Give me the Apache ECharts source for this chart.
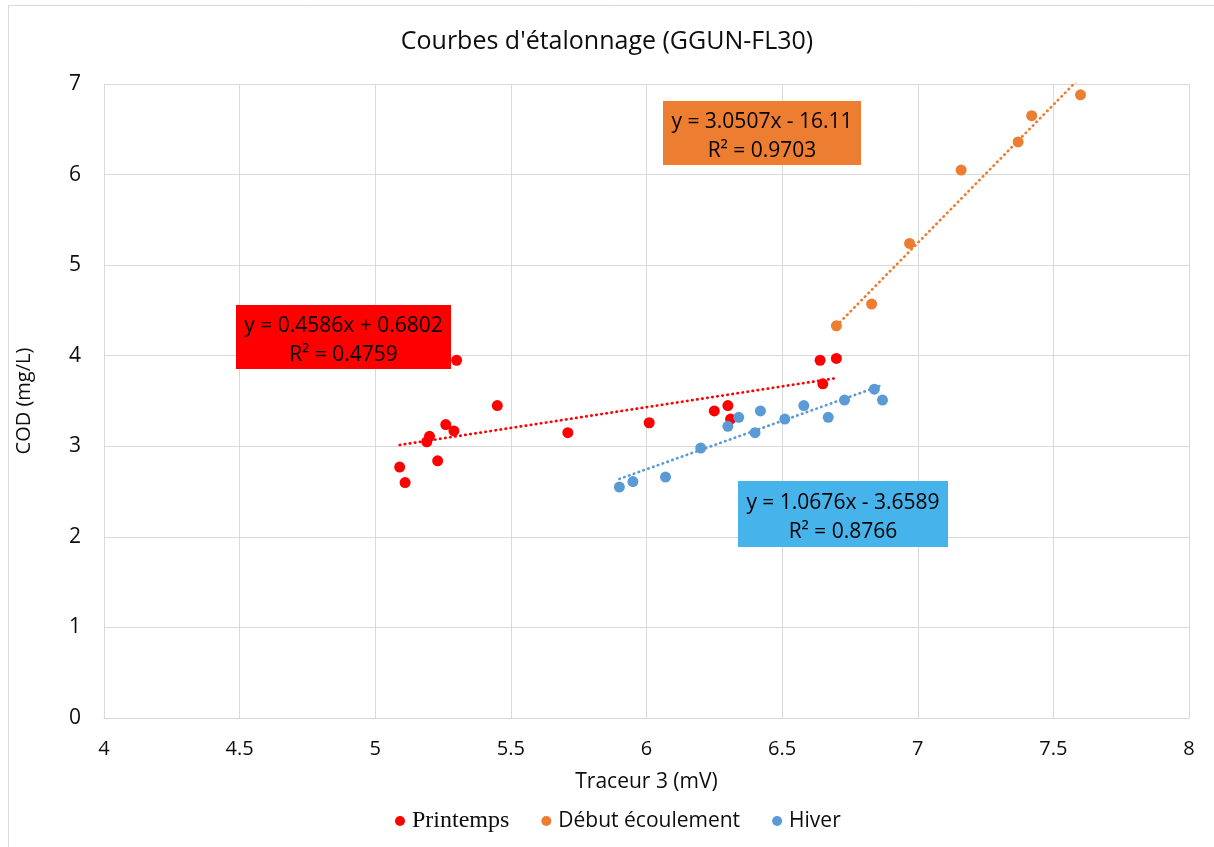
<!DOCTYPE html>
<html>
<head>
<meta charset="utf-8">
<script src="https://cdn.jsdelivr.net/npm/echarts@6/dist/echarts.min.js"></script>
<style>
  html, body { margin: 0; padding: 0; background: #fff; }
  #chart { width: 1214px; height: 847px; }
</style>
</head>
<body>
<div id="chart"></div>
<script>
// Calibration data: tracer 3 signal (mV) vs COD (mg/L)
const seriesNames = ['Printemps', 'Début écoulement', 'Hiver'];
const seriesColors = ['#FF0000', '#ED7D31', '#5B9BD5'];

const printempsX = [5.09, 5.11, 5.19, 5.20, 5.23, 5.26, 5.29, 5.30, 5.45, 5.71, 6.01, 6.25, 6.30, 6.31, 6.64, 6.70, 6.65];
const printempsY = [2.77, 2.60, 3.05, 3.11, 2.84, 3.24, 3.17, 3.95, 3.45, 3.15, 3.26, 3.39, 3.45, 3.30, 3.95, 3.97, 3.69];

const debutX = [6.70, 6.83, 6.97, 7.16, 7.37, 7.42, 7.60];
const debutY = [4.33, 4.57, 5.24, 6.05, 6.36, 6.65, 6.88];

const hiverX = [5.90, 5.95, 6.07, 6.20, 6.30, 6.34, 6.42, 6.40, 6.51, 6.58, 6.67, 6.73, 6.84, 6.87];
const hiverY = [2.55, 2.61, 2.66, 2.98, 3.22, 3.32, 3.39, 3.15, 3.30, 3.45, 3.32, 3.51, 3.63, 3.51];

// Linear trendlines (y = a·x + b) and their R²
const trendSlopes = [0.4586, 3.0507, 1.0676];
const trendIntercepts = [0.6802, -16.11, -3.6589];
const trendR2 = ['0.4759', '0.9703', '0.8766'];

const xAxisMin = 4, xAxisMax = 8, xAxisStep = 0.5;
const yAxisMin = 0, yAxisMax = 7, yAxisStep = 1;

const allX = [printempsX, debutX, hiverX];
const allY = [printempsY, debutY, hiverY];

const UI_FONT = '"Open Sans", "Noto Sans", sans-serif';
const TEXT = '#0d0d0d';

function pairs(xs, ys) { return xs.map((x, i) => [x, ys[i]]); }

function trendData(k) {
  const a = trendSlopes[k], b = trendIntercepts[k];
  const x0 = Math.min(...allX[k]), x1 = Math.max(...allX[k]);
  return [[x0, a * x0 + b], [x1, a * x1 + b]];
}

function equationText(k) {
  const a = trendSlopes[k], b = trendIntercepts[k];
  const sign = b < 0 ? ' - ' : ' + ';
  return 'y = ' + a + 'x' + sign + Math.abs(b) + '\nR² = ' + trendR2[k];
}

const scatterSeries = seriesNames.map((name, k) => ({
  name: name,
  type: 'scatter',
  data: pairs(allX[k], allY[k]),
  symbol: 'circle',
  symbolSize: 11,
  itemStyle: { color: seriesColors[k], opacity: 1 },
  z: 3
}));

const trendSeries = seriesNames.map((name, k) => ({
  name: 'Tendance ' + name,
  type: 'line',
  data: trendData(k),
  showSymbol: false,
  symbol: 'none',
  clip: true,
  silent: true,
  lineStyle: { color: seriesColors[k], width: 2.7, type: [0.5, 4.6], cap: 'round' },
  z: 4
}));

// Equation boxes
const boxes = [
  { x: 236, y: 305, w: 215, h: 64, fill: '#FF0000' },
  { x: 663, y: 101, w: 198, h: 64, fill: '#ED7D31' },
  { x: 738, y: 481, w: 210, h: 66, fill: '#46B4EA' }
];

const boxGraphics = [];
boxes.forEach((bx, k) => {
  boxGraphics.push({
    type: 'rect',
    z: 100,
    silent: true,
    shape: { x: bx.x, y: bx.y, width: bx.w, height: bx.h },
    style: { fill: bx.fill }
  });
  boxGraphics.push({
    type: 'text',
    z: 101,
    silent: true,
    x: bx.x + bx.w / 2,
    y: bx.y + bx.h / 2 + 4,
    style: {
      text: equationText(k),
      align: 'center',
      verticalAlign: 'middle',
      fontFamily: UI_FONT,
      fontSize: 21,
      lineHeight: 29,
      fill: '#000'
    }
  });
});

const chart = echarts.init(document.getElementById('chart'), null, { renderer: 'canvas' });

chart.setOption({
  backgroundColor: '#fff',
  animation: false,
  title: {
    text: "Courbes d'étalonnage (GGUN-FL30)",
    left: 'center',
    top: 24,
    textStyle: { fontFamily: UI_FONT, fontSize: 25, fontWeight: 'normal', color: TEXT }
  },
  grid: { left: 104, right: 25, top: 84, bottom: 129, containLabel: false },
  xAxis: {
    type: 'value',
    min: xAxisMin,
    max: xAxisMax,
    interval: xAxisStep,
    name: 'Traceur 3 (mV)',
    nameLocation: 'middle',
    nameGap: 54,
    nameTextStyle: { fontFamily: UI_FONT, fontSize: 21, color: TEXT },
    axisLine: { show: true, lineStyle: { color: '#D9D9D9', width: 1 } },
    axisTick: { show: false },
    axisLabel: { margin: 21, fontFamily: UI_FONT, fontSize: 20, color: TEXT },
    splitLine: { show: true, lineStyle: { color: '#D9D9D9', width: 1 } }
  },
  yAxis: {
    type: 'value',
    min: yAxisMin,
    max: yAxisMax,
    interval: yAxisStep,
    name: 'COD (mg/L)',
    nameLocation: 'middle',
    nameGap: 70,
    nameTextStyle: { fontFamily: UI_FONT, fontSize: 20, color: TEXT },
    axisLine: { show: true, lineStyle: { color: '#D9D9D9', width: 1 } },
    axisTick: { show: false },
    axisLabel: { margin: 23, fontFamily: UI_FONT, fontSize: 21, color: TEXT },
    splitLine: { show: true, lineStyle: { color: '#D9D9D9', width: 1 } }
  },
  legend: {
    left: 390,
    top: 804,
    itemGap: 32,
    itemWidth: 10,
    itemHeight: 10,
    icon: 'circle',
    textStyle: { fontFamily: UI_FONT, fontSize: 21, color: TEXT, padding: [0, 0, 0, 2] },
    data: [
      { name: seriesNames[0], textStyle: { fontFamily: '"Liberation Serif", "DejaVu Serif", serif', fontSize: 24 } },
      { name: seriesNames[1] },
      { name: seriesNames[2] }
    ]
  },
  graphic: [
    {
      type: 'rect',
      z: -1,
      silent: true,
      shape: { x: 8.5, y: 5.5, width: 1400, height: 1000 },
      style: { fill: 'none', stroke: '#D9D9D9', lineWidth: 1 }
    }
  ].concat(boxGraphics),
  series: scatterSeries.concat(trendSeries)
});
</script>
</body>
</html>
